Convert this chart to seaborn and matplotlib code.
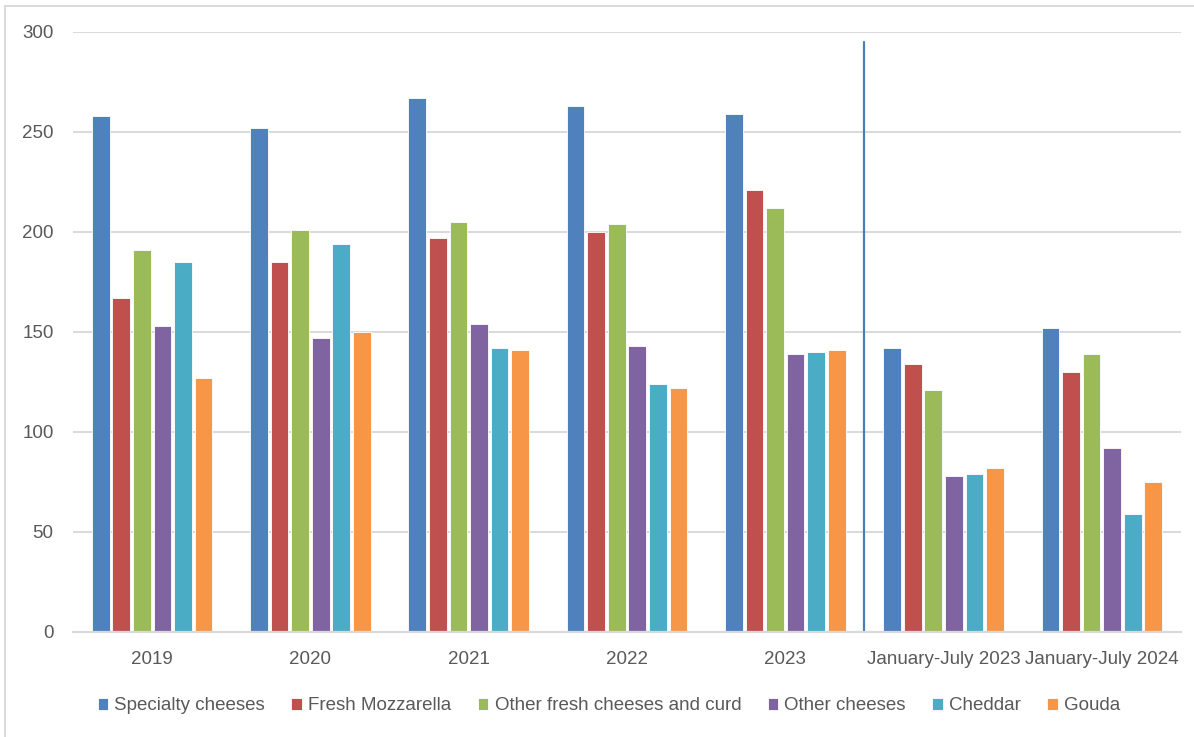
import matplotlib
matplotlib.use("Agg")
import matplotlib.pyplot as plt
from matplotlib.patches import Rectangle
import seaborn as sns
import pandas as pd

# Import volumes by cheese type and period
periods = ["2019", "2020", "2021", "2022", "2023",
           "January-July 2023", "January-July 2024"]
cheese_types = ["Specialty cheeses", "Fresh Mozzarella",
                "Other fresh cheeses and curd", "Other cheeses",
                "Cheddar", "Gouda"]

specialty = [258, 252, 267, 263, 259, 142, 152]
mozzarella = [167, 185, 197, 200, 221, 134, 130]
other_fresh = [191, 201, 205, 204, 212, 121, 139]
other_cheeses = [153, 147, 154, 143, 139, 78, 92]
cheddar = [185, 194, 142, 124, 140, 79, 59]
gouda = [127, 150, 141, 122, 141, 82, 75]

series = [specialty, mozzarella, other_fresh, other_cheeses, cheddar, gouda]
colors = ["#4F81BD", "#C0504D", "#9BBB59", "#8064A2", "#4BACC6", "#F79646"]

rows = []
for name, vals in zip(cheese_types, series):
    for p, v in zip(periods, vals):
        rows.append({"period": p, "type": name, "value": v})
df = pd.DataFrame(rows)

sns.set_theme(style="white")
plt.rcParams["font.family"] = ["Liberation Sans", "DejaVu Sans"]

W, H = 1194, 737
fig = plt.figure(figsize=(W / 100, H / 100), dpi=100)
ax = fig.add_axes([73 / W, 1 - 632 / H, (1181 - 73) / W, 600 / H])

sns.barplot(data=df, x="period", y="value", hue="type",
            order=periods, hue_order=cheese_types, palette=colors,
            width=0.78, gap=0.14, saturation=1, edgecolor="white",
            linewidth=0.6, ax=ax, legend=True)

ax.set_xlim(-0.5, len(periods) - 0.5)
ax.set_ylim(0, 300)
ax.set_yticks(range(0, 301, 50))
ax.yaxis.grid(True, color="#D9D9D9", linewidth=1.4)
ax.set_axisbelow(True)
for s in ["top", "right", "left"]:
    ax.spines[s].set_visible(False)
ax.spines["bottom"].set_color("#D9D9D9")
ax.spines["bottom"].set_linewidth(1.6)
ax.tick_params(axis="y", length=0, pad=14, labelsize=13.5, labelcolor="#595959")
ax.tick_params(axis="x", length=0, pad=14, labelsize=13.5, labelcolor="#595959")
ax.set_xlabel("")
ax.set_ylabel("")

# Separator between full years and partial-year periods
ax.axvline(4.5, ymin=0, ymax=295 / 300, color="#4A7EBB", linewidth=1.6)

handles, labels = ax.get_legend_handles_labels()
ax.legend_.remove()
fig.legend(handles, labels, loc="center", bbox_to_anchor=(0.51, 1 - 706 / H),
           ncol=6, frameon=False, fontsize=13.5, labelcolor="#595959",
           handlelength=0.55, handleheight=0.55, handletextpad=0.35,
           columnspacing=1.4)

# Chart area border
fig.patches.append(Rectangle((5 / W, -0.1), 1.2, 1.1 - 6 / H,
                             transform=fig.transFigure, fill=False,
                             edgecolor="#D9D9D9", linewidth=1.4))

fig.savefig("out.png", dpi=100, facecolor="white")
